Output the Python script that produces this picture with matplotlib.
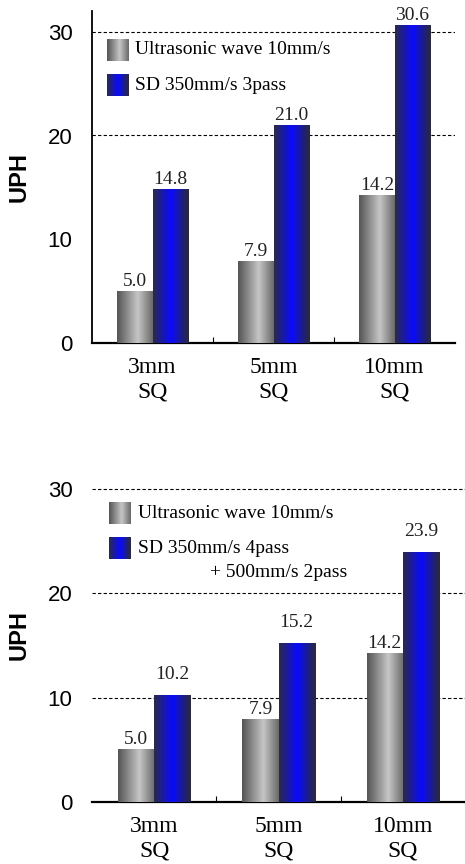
import matplotlib.pyplot as plt
import numpy as np
from matplotlib.colors import LinearSegmentedColormap

categories = ['3mm\nSQ', '5mm\nSQ', '10mm\nSQ']
ultrasonic = [5.0, 7.9, 14.2]
sd_top = [14.8, 21.0, 30.6]
sd_bottom = [10.2, 15.2, 23.9]
legend_top = ['Ultrasonic wave 10mm/s', 'SD 350mm/s 3pass']
legend_bottom = ['Ultrasonic wave 10mm/s', 'SD 350mm/s 4pass', '+ 500mm/s 2pass']

grey_cm = LinearSegmentedColormap.from_list(
    'grey', [(0, '#555555'), (0.58, '#c6c6c6'), (1, '#6a6a6a')])
blue_cm = LinearSegmentedColormap.from_list(
    'blue', [(0, '#2a2a4a'), (0.5, '#0a0aff'), (1, '#2a2a3a')])
grad = np.linspace(0, 1, 64).reshape(1, -1)

serif = 'Liberation Serif'
sans = 'Liberation Sans'


def gradient_bars(ax, xs, vals, cmap, offset):
    bars = ax.bar(xs, vals, width=0.29, facecolor='none', edgecolor='none', zorder=3)
    for b, v in zip(bars, vals):
        x0, w, h = b.get_x(), b.get_width(), b.get_height()
        ax.imshow(grad, cmap=cmap, extent=[x0, x0 + w, 0, h], aspect='auto', zorder=3)
        ax.annotate(f'{v:.1f}', (x0 + w / 2, h), xytext=(0, offset),
                    textcoords='offset points', ha='center', va='bottom',
                    fontsize=14, family=serif, color='#222222')


def swatch(fig, ax, x, y, cmap):
    # small gradient square placed in axes fraction coords
    bb = ax.get_position()
    sw = fig.add_axes([bb.x0 + x * bb.width, bb.y0 + y * bb.height, 22 / 465, 22 / 864])
    sw.imshow(grad, cmap=cmap, aspect='auto')
    sw.set_axis_off()


def setup(ax, grid_vals, left_spine):
    x = np.arange(len(categories))
    ax.set_xlim(-0.5, 2.5)
    ax.set_ylim(0, 32)
    ax.set_yticks([0, 10, 20, 30])
    ax.set_xticks(x)
    ax.set_xticklabels(categories, family=serif, fontsize=17, linespacing=1.25)
    ax.set_xticks([0.5, 1.5], minor=True)
    ax.tick_params(axis='x', which='major', length=0, pad=10)
    ax.tick_params(axis='x', which='minor', direction='in', length=4, width=0.8)
    ax.tick_params(axis='y', length=0, pad=14, labelsize=16)
    for lab in ax.get_yticklabels():
        lab.set_family(sans)
    for g in grid_vals:
        ax.axhline(g, color='black', lw=0.8, ls=(0, (3, 2)), zorder=1)
    for s in ['top', 'right']:
        ax.spines[s].set_visible(False)
    ax.spines['left'].set_visible(left_spine)
    ax.spines['bottom'].set_linewidth(1.6)
    ax.spines['left'].set_linewidth(1.3)
    ax.set_ylabel('UPH', family=sans, fontweight='bold', fontsize=17, labelpad=12)
    return x


fig = plt.figure(figsize=(4.65, 8.64), dpi=100)
ax1 = fig.add_axes([92 / 465, 521 / 864, 363 / 465, 332 / 864])
ax2 = fig.add_axes([92 / 465, 62 / 864, 373 / 465, 334 / 864])

x = setup(ax1, [20, 30], True)
gradient_bars(ax1, x - 0.145, ultrasonic, grey_cm, 1)
gradient_bars(ax1, x + 0.145, sd_top, blue_cm, 1)
ax1.set_xlim(-0.5, 2.5)
ax1.set_ylim(0, 32)

x = setup(ax2, [10, 20, 30], False)
gradient_bars(ax2, x - 0.145, ultrasonic, grey_cm, 1)
gradient_bars(ax2, x + 0.145, sd_bottom, blue_cm, 9)
ax2.set_xlim(-0.5, 2.5)
ax2.set_ylim(0, 32)

# legends
swatch(fig, ax1, 0.041, 0.849, grey_cm)
swatch(fig, ax1, 0.041, 0.744, blue_cm)
ax1.text(0.118, 0.883, legend_top[0], transform=ax1.transAxes, va='center',
         family=serif, fontsize=14)
ax1.text(0.118, 0.777, legend_top[1], transform=ax1.transAxes, va='center',
         family=serif, fontsize=14)

swatch(fig, ax2, 0.046, 0.832, grey_cm)
swatch(fig, ax2, 0.046, 0.728, blue_cm)
ax2.text(0.123, 0.865, legend_bottom[0], transform=ax2.transAxes, va='center',
         family=serif, fontsize=14)
ax2.text(0.123, 0.760, legend_bottom[1], transform=ax2.transAxes, va='center',
         family=serif, fontsize=14)
ax2.text(0.316, 0.686, legend_bottom[2], transform=ax2.transAxes, va='center',
         family=serif, fontsize=14)

fig.savefig('out.png', dpi=100)
